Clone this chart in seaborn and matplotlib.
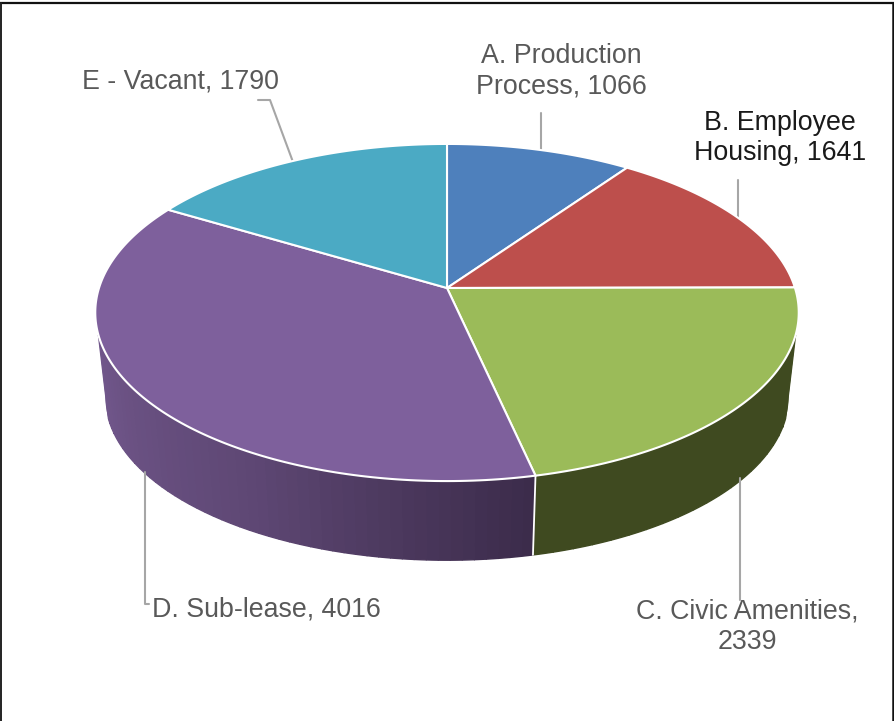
"""
3D style pie of land use, drawn on a pixel sized axes
"""
import numpy as np
import seaborn as sns
import matplotlib.pyplot as plt

labels = ['A. Production\nProcess, 1066', 'B. Employee\nHousing, 1641',
          'C. Civic Amenities,\n2339', 'D. Sub-lease, 4016', 'E - Vacant, 1790']
values = [1066, 1641, 2339, 4016, 1790]

top_colors = ['#4e80bc', '#bd4f4c', '#9bbb59', '#7e609c', '#4baac4']
dark_purple = sns.blend_palette(['#70568a', '#5f4875', '#3c2c4b'], 50)
dark_green = sns.blend_palette(['#3f4a20', '#3f4a20'], 20)

sns.set_theme(style='white')
plt.rcParams['font.family'] = ['Liberation Sans', 'DejaVu Sans']

fig = plt.figure(figsize=(8.95, 7.21), dpi=100)
ax = fig.add_axes([0, 0, 1, 1])
ax.set_xlim(0, 895)
ax.set_ylim(721, 0)
ax.axis('off')


def rim(deg, cx, cy, a, b, c=0.1454):
    # circle seen in perspective, angle clockwise from 12 o'clock
    t = np.radians(deg)
    d = 1 + c * np.cos(t)
    return cx + a * np.sin(t) / d, cy - b * np.cos(t) / d


def top_rim(deg):
    return rim(deg, 447, 288, 348, 165)


def low_rim(deg):
    return rim(deg, 447, 373, 338, 160)


edges = np.cumsum([0] + values) / sum(values) * 360

# side wall, only the front part shows
wall_start, wall_end = 105.9, 254.1
cut = edges[3]

x1, y1 = top_rim(np.linspace(wall_start, wall_start + 1, 2))
x2, y2 = low_rim(np.linspace(wall_start + 1, 98, 30))
ax.fill(np.r_[x1, x2], np.r_[y1, y2], color=dark_green[0], lw=0)

x1, y1 = top_rim(np.linspace(wall_end - 1, wall_end, 2))
x2, y2 = low_rim(np.linspace(262, wall_end - 1, 30))
ax.fill(np.r_[x1, x2], np.r_[y1, y2], color=dark_purple[0], lw=0)

for start, stop, shades in [(wall_start, cut, dark_green), (cut, wall_end, dark_purple)]:
    steps = np.linspace(start, stop, len(shades) + 1)
    if shades is dark_purple:
        shades = shades[::-1]
    for i, shade in enumerate(shades):
        d = np.linspace(steps[i], steps[i + 1], 6)
        x1, y1 = top_rim(d)
        x2, y2 = low_rim(d[::-1])
        ax.fill(np.r_[x1, x2], np.r_[y1, y2], color=shade, lw=1)

# seam between the two walls
x1, y1 = top_rim(cut)
x2, y2 = low_rim(cut)
ax.plot([x1, x2], [y1, y2], color='white', lw=1.3)

# leader lines
line_color = '#a6a6a6'
ax.plot([541, 541], [113, 151], color=line_color, lw=1.5, zorder=1)
ax.plot([738, 738], [180, 220], color=line_color, lw=1.5, zorder=1)
ax.plot([740, 740], [478, 600], color=line_color, lw=1.5, zorder=1)
ax.plot([145, 145, 149], [472, 604, 604], color=line_color, lw=1.5, zorder=1)
ax.plot([258, 270, 293], [100, 100, 162], color=line_color, lw=1.5, zorder=1)

# top face
for i, color in enumerate(top_colors):
    x, y = top_rim(np.linspace(edges[i], edges[i + 1], 150))
    ax.fill(np.r_[447, x], np.r_[288, y], facecolor=color, edgecolor='white',
            lw=1.5, joinstyle='round', zorder=3)

# label text
font = 19.3
gray = '#595959'
ax.text(561, 71, labels[0], color=gray, fontsize=font, ha='center', va='center',
        linespacing=1.22, zorder=4)
ax.text(780, 138, labels[1], color='#1a1a1a', fontsize=font, ha='center', va='center',
        linespacing=1.22, zorder=4)
ax.text(747, 627, labels[2], color=gray, fontsize=font, ha='center', va='center',
        linespacing=1.22, zorder=4)
ax.text(152, 610, labels[3], color=gray, fontsize=font, ha='left', va='center', zorder=4)
ax.text(82, 81, labels[4], color=gray, fontsize=font, ha='left', va='center', zorder=4)

# frame of the screenshot, it has no bottom edge
ax.plot([0, 895], [3, 3], color='#111111', lw=1.6, zorder=5)
ax.plot([0.8, 0.8], [3, 721], color='#222222', lw=1.4, zorder=5)
ax.plot([893.5, 893.5], [3, 721], color='#111111', lw=1.8, zorder=5)

fig.savefig('out.png', dpi=100)
